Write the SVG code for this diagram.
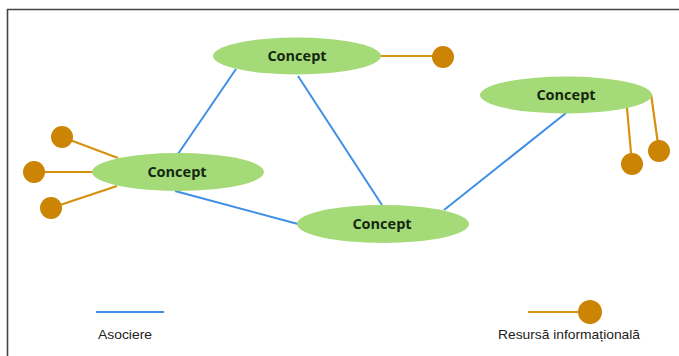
<svg xmlns="http://www.w3.org/2000/svg" width="679" height="356" viewBox="0 0 679 356">
<style>
.concept{fill:#a5da78;stroke:none}
.label{font-family:"Open Sans","Liberation Sans",sans-serif;font-weight:bold;font-size:14.5px;fill:#142810;text-anchor:middle}
.assoc{stroke:#3f8fe6;stroke-width:2;fill:none}
.res{stroke:#d6920e;stroke-width:2.2;fill:none}
.dot{fill:#cc8404}
.legend{font-family:"Liberation Sans","Noto Sans",sans-serif;font-size:13px;fill:#222}
</style>
<rect x="0" y="0" width="679" height="356" fill="#ffffff"/>
<path d="M7.5 356 V9.5 H679" fill="none" stroke="#444" stroke-width="1.6"/>
<g id="connectors">
<line class="assoc" x1="178" y1="154" x2="236" y2="69"/>
<line class="assoc" x1="298" y1="76" x2="382" y2="205"/>
<line class="assoc" x1="175" y1="191" x2="298" y2="224"/>
<line class="assoc" x1="444" y1="210" x2="566" y2="113"/>
<line class="res" x1="380" y1="56" x2="443" y2="56"/>
<line class="res" x1="118" y1="158" x2="62" y2="137"/>
<line class="res" x1="93" y1="172" x2="34" y2="172"/>
<line class="res" x1="117" y1="186" x2="51" y2="208"/>
<line class="res" x1="627" y1="108" x2="632" y2="164"/>
<line class="res" x1="651" y1="94" x2="659" y2="151"/>
</g>
<g id="node-top">
<ellipse class="concept" cx="297" cy="56" rx="84" ry="18.5"/>
<text class="label" x="297" y="61">Concept</text>
</g>
<g id="node-right">
<ellipse class="concept" cx="566" cy="95" rx="86" ry="18.5"/>
<text class="label" x="566" y="100">Concept</text>
</g>
<g id="node-left">
<ellipse class="concept" cx="178" cy="172" rx="86" ry="19"/>
<text class="label" x="177" y="177">Concept</text>
</g>
<g id="node-bottom">
<ellipse class="concept" cx="383" cy="224" rx="86" ry="19"/>
<text class="label" x="382" y="229">Concept</text>
</g>
<g id="resources">
<circle class="dot" cx="443" cy="57" r="11"/>
<circle class="dot" cx="62" cy="137" r="11"/>
<circle class="dot" cx="34" cy="172" r="11"/>
<circle class="dot" cx="51" cy="208" r="11"/>
<circle class="dot" cx="632" cy="164" r="11"/>
<circle class="dot" cx="659" cy="151" r="11"/>
</g>
<g id="legend">
<line class="assoc" x1="96" y1="312" x2="164" y2="312"/>
<text class="legend" x="98" y="339" textLength="54" lengthAdjust="spacingAndGlyphs">Asociere</text>
<line class="res" x1="528" y1="312" x2="590" y2="312"/>
<circle class="dot" cx="590" cy="312" r="12"/>
<text class="legend" x="498" y="339" textLength="142" lengthAdjust="spacingAndGlyphs">Resursă informațională</text>
</g>
</svg>
